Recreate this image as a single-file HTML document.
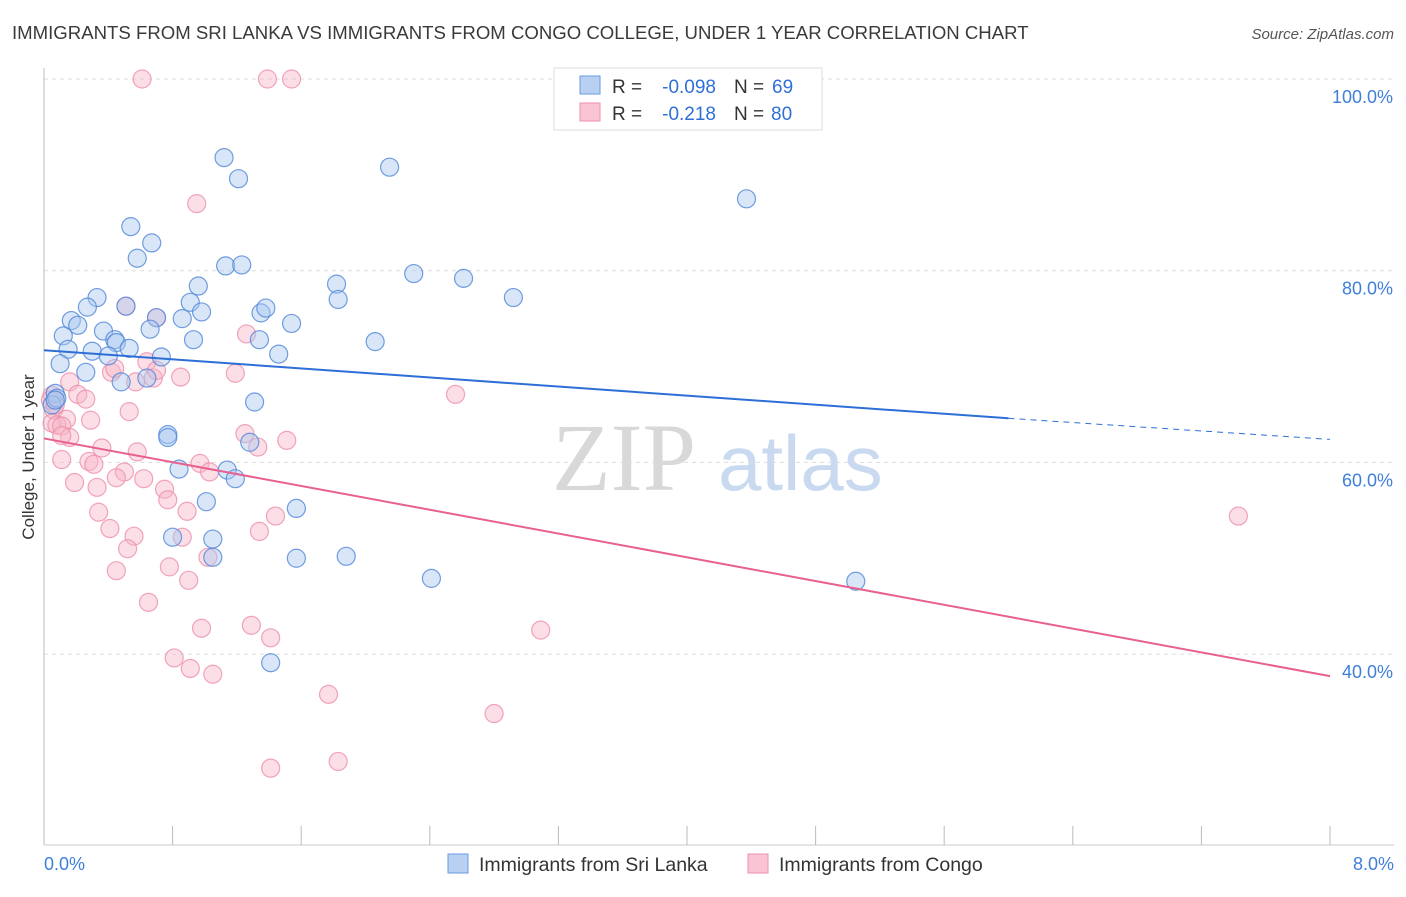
<!DOCTYPE html>
<html><head><meta charset="utf-8"><style>
body{margin:0;background:#fff;font-family:"Liberation Sans",sans-serif;}
svg text{font-family:"Liberation Sans",sans-serif;}
</style></head><body>
<svg id="chart" width="1406" height="892" xmlns="http://www.w3.org/2000/svg">
<text x="12" y="39" font-size="18.6" fill="#3a3a3a">IMMIGRANTS FROM SRI LANKA VS IMMIGRANTS FROM CONGO COLLEGE, UNDER 1 YEAR CORRELATION CHART</text>
<text x="1394" y="39" font-size="15" fill="#555" font-style="italic" text-anchor="end">Source: ZipAtlas.com</text>
<text x="552" y="490" font-size="96" fill="#d8d8d8" font-family="Liberation Serif" style="font-family:'Liberation Serif',serif">ZIP</text>
<text x="718" y="490" font-size="78" fill="#c9daf0">atlas</text>
<g id="grid"></g><g id="axes"></g><g id="pts"></g><g id="trend"></g>
<text transform="translate(34,457) rotate(-90)" font-size="17" fill="#333" text-anchor="middle">College, Under 1 year</text>
<g>
<rect x="554" y="68" width="268" height="62" fill="#fff" stroke="#ddd"/>
<rect x="580" y="76" width="20" height="18" fill="#b8d1f3" stroke="#6a9ae0"/>
<rect x="580" y="103" width="20" height="18" fill="#f9c5d4" stroke="#ee90ac"/>
<text x="612" y="93" font-size="19" fill="#333">R =</text>
<text x="716" y="93" font-size="19" fill="#2f6fd6" text-anchor="end">-0.098</text>
<text x="734" y="93" font-size="19" fill="#333">N =</text>
<text x="772" y="93" font-size="19" fill="#2f6fd6">69</text>
<text x="612" y="120" font-size="19" fill="#333">R =</text>
<text x="716" y="120" font-size="19" fill="#2f6fd6" text-anchor="end">-0.218</text>
<text x="734" y="120" font-size="19" fill="#333">N =</text>
<text x="771" y="120" font-size="19" fill="#2f6fd6">80</text>
</g>
<g>
<rect x="448" y="854" width="20" height="19" fill="#b8d1f3" stroke="#6a9ae0"/>
<text x="479" y="871" font-size="19.5" fill="#333">Immigrants from Sri Lanka</text>
<rect x="748" y="854" width="20" height="19" fill="#f9c5d4" stroke="#ee90ac"/>
<text x="779" y="871" font-size="19.5" fill="#333">Immigrants from Congo</text>
</g>
</svg>
<script>
const yTicks=[100,80,60,40];
const yTickLabels=["100.0%","80.0%","60.0%","40.0%"];
const xTickVals=[0,0.8,1.6,2.4,3.2,4.0,4.8,5.6,6.4,7.2,8.0];
const xEndLabels=["0.0%","8.0%"];
const blueX=[1.12,1.21,2.15,4.37,0.54,0.67,0.58,1.13,1.23,2.30,2.61,1.82,0.96,0.33,1.83,2.92,0.91,0.27,0.51,0.70,0.86,0.98,1.35,1.38,0.17,0.21,1.54,0.66,0.12,0.37,0.44,0.45,0.53,1.34,0.93,2.06,0.15,0.30,0.40,0.73,1.46,0.10,0.26,0.64,0.48,0.07,0.05,0.08,1.31,0.77,0.77,1.28,0.84,1.14,1.19,1.01,1.57,0.80,1.05,1.05,1.57,1.88,2.41,5.05,1.41,0.07];
const blueY=[91.8,89.6,90.8,87.5,84.6,82.9,81.3,80.5,80.6,79.7,79.2,78.6,78.4,77.2,77.0,77.2,76.7,76.2,76.3,75.1,75.0,75.7,75.6,76.1,74.8,74.3,74.5,73.9,73.2,73.7,72.8,72.5,71.9,72.8,72.8,72.6,71.8,71.6,71.1,71.0,71.3,70.3,69.4,68.8,68.4,67.2,66.0,66.7,66.3,62.9,62.6,62.1,59.3,59.2,58.3,55.9,55.2,52.2,52.0,50.1,50.0,50.2,47.9,47.6,39.1,66.5];
const pinkX=[0.61,1.39,1.54,0.95,0.51,0.70,1.26,0.64,0.16,1.19,0.85,0.68,0.70,0.42,0.44,0.57,2.56,0.21,0.26,0.05,0.06,0.14,0.29,0.53,0.05,0.08,0.11,0.16,0.11,1.25,1.33,1.51,0.36,0.58,0.11,0.28,0.31,0.97,1.03,0.50,0.45,0.33,0.19,0.62,0.75,0.77,0.34,0.89,1.44,0.41,0.56,0.86,1.34,0.52,1.02,0.78,0.45,0.90,0.65,0.98,1.29,1.41,3.09,0.81,0.91,1.05,1.77,2.80,1.41,1.83,7.43,0.07,0.04];
const pinkY=[100,100,100,87.0,76.3,75.1,73.4,70.5,68.4,69.3,68.9,68.8,69.6,69.4,69.8,68.4,67.1,67.1,66.6,67.0,65.5,64.5,64.4,65.3,64.1,63.9,63.8,62.6,62.8,63.0,61.6,62.3,61.5,61.1,60.3,60.1,59.8,59.9,59.0,59.0,58.4,57.4,57.9,58.3,57.2,56.1,54.8,54.9,54.4,53.1,52.3,52.2,52.8,51.0,50.1,49.1,48.7,47.7,45.4,42.7,43.0,41.7,42.5,39.6,38.5,37.9,35.8,33.8,28.1,28.8,54.4,66.0,66.5];
const blueTrend=[71.7,64.6,62.4]; const blueTrendX=[0,6.0,8.0];
const pinkTrend=[62.5,37.7]; const pinkTrendX=[0,8.0];

const NS="http://www.w3.org/2000/svg";
const xs=v=>44+v*160.75;
const ys=v=>79+(100-v)*9.585;
function mk(tag,attrs,parent){const e=document.createElementNS(NS,tag);for(const k in attrs)e.setAttribute(k,attrs[k]);document.getElementById(parent).appendChild(e);return e;}
yTicks.forEach((t,i)=>{
 const g=mk('line',{x1:44,x2:1394,y1:ys(t),y2:ys(t),stroke:'#ddd','stroke-dasharray':'4,4'},'grid');
 
 
 const l=mk('text',{x:1393,y:ys(t)+24,'font-size':18,fill:'#3f7fd9','text-anchor':'end'},'axes');
 l.textContent=yTickLabels[i];
 
 
});
const ax=mk('line',{x1:44,x2:44,y1:68,y2:845,stroke:'#bbb'},'axes');


const bx=mk('line',{x1:44,x2:1394,y1:845,y2:845,stroke:'#ccc'},'axes');


xTickVals.forEach(v=>{
 const t=mk('line',{x1:xs(v),x2:xs(v),y1:826,y2:845,stroke:'#bbb'},'axes');
 
 
});
[[0,'start',44],[8,'end',1394]].forEach((d,i)=>{
 const l=mk('text',{x:d[2],y:870,'font-size':18,fill:'#3f7fd9','text-anchor':d[1]},'axes');
 l.textContent=xEndLabels[i];
 
 
});
function dots(X,Y,fill,stroke,name){X.forEach((x,i)=>{
 const c=mk('circle',{cx:xs(x),cy:ys(Y[i]),r:9,fill:fill,'fill-opacity':0.45,stroke:stroke,'stroke-opacity':0.8,'stroke-width':1.2},'pts');
 
 
});}
dots(pinkX,pinkY,'#f7b5c8','#ee8fab','congo-point');
dots(blueX,blueY,'#a9c7f0','#4f86d8','sri-lanka-point');
const b1=mk('line',{x1:xs(blueTrendX[0]),y1:ys(blueTrend[0]),x2:xs(blueTrendX[1]),y2:ys(blueTrend[1]),stroke:'#2d6fd6','stroke-width':2},'trend');


const b2=mk('line',{x1:xs(blueTrendX[1]),y1:ys(blueTrend[1]),x2:xs(blueTrendX[2]),y2:ys(blueTrend[2]),stroke:'#2d6fd6','stroke-width':1,'stroke-dasharray':'6,5'},'trend');


const p1=mk('line',{x1:xs(pinkTrendX[0]),y1:ys(pinkTrend[0]),x2:xs(pinkTrendX[1]),y2:ys(pinkTrend[1]),stroke:'#e8608f','stroke-width':2},'trend');


</script>
</body></html>
